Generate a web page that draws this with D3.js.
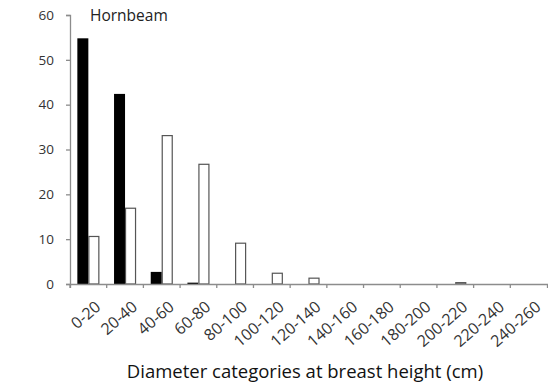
<!DOCTYPE html>
<html>
<head>
<meta charset="utf-8">
<script src="https://cdn.jsdelivr.net/npm/d3@7"></script>
<style>
  html, body { margin: 0; padding: 0; background: #fff; }
  svg { display: block; }
</style>
</head>
<body>
<div id="chart"></div>
<script>
// Hornbeam – stems by diameter class (two series: filled / open bars)

const categories = ["0-20","20-40","40-60","60-80","80-100","100-120","120-140",
                    "140-160","160-180","180-200","200-220","220-240","240-260"];
const seriesNames = ["black", "white"];
const blackValues = [54.8, 42.4, 2.7, 0.3, 0, 0, 0, 0, 0, 0, 0, 0, 0];
const whiteValues = [10.6, 16.9, 33.1, 26.7, 9.1, 2.4, 1.3, 0, 0, 0, 0.3, 0, 0];
const yTicks = [0, 10, 20, 30, 40, 50, 60];

const W = 548, H = 385;
const margin = { top: 15, right: 1, bottom: 101, left: 70 };
const width  = W - margin.left - margin.right;
const height = H - margin.top - margin.bottom;
const FONT = "'Open Sans', 'Liberation Sans', sans-serif";
const AXIS_COLOR = "#8c8c8c";

const svg = d3.select("#chart").append("svg").attr("width", W).attr("height", H);
const g = svg.append("g").attr("transform", `translate(${margin.left},${margin.top})`);

const x = d3.scaleBand().domain(categories).range([0, width]).paddingInner(0).paddingOuter(0);
const xs = d3.scaleBand().domain(seriesNames).range([0, x.bandwidth()])
  .paddingInner(0).paddingOuter(0.668);
const y = d3.scaleLinear().domain([0, 60]).range([height, 0]);

const rows = categories.map((c, i) => ({ cat: c, black: blackValues[i], white: whiteValues[i] }));

// Bars
const groups = g.selectAll(".grp").data(rows).join("g")
  .attr("class", "grp").attr("transform", d => `translate(${x(d.cat)},0)`);

groups.selectAll("rect").data(d => seriesNames.map(s => ({ s, v: d[s] })).filter(e => e.v > 0))
  .join("rect")
  .attr("x", d => xs(d.s) + (d.s === "white" ? 0.5 : 0))
  .attr("y", d => y(d.v))
  .attr("width", d => xs.bandwidth() - (d.s === "white" ? 1 : 0))
  .attr("height", d => y(0) - y(d.v))
  .attr("fill", d => d.s === "black" ? "#000" : "#fff")
  .attr("stroke", d => d.s === "black" ? "none" : "#555")
  .attr("stroke-width", 1.2);

// Y axis
const yAxis = g.append("g").call(d3.axisLeft(y).tickValues(yTicks).tickSize(4).tickPadding(12));
yAxis.select(".domain").attr("stroke", AXIS_COLOR).attr("stroke-width", 1.3);
yAxis.selectAll(".tick line").attr("stroke", AXIS_COLOR).attr("stroke-width", 1.3);
yAxis.selectAll("text").attr("font-family", FONT).attr("font-size", "13.5px").attr("fill", "#333");

// X axis – ticks at category boundaries, labels rotated
const xAxis = g.append("g").attr("transform", `translate(0,${height})`)
  .call(d3.axisBottom(x).tickSizeOuter(0).tickSize(4));
xAxis.select(".domain").attr("stroke", AXIS_COLOR).attr("stroke-width", 1.3);
xAxis.selectAll(".tick line")
  .attr("x1", -x.bandwidth() / 2).attr("x2", -x.bandwidth() / 2)
  .attr("stroke", AXIS_COLOR).attr("stroke-width", 1.3);
xAxis.selectAll("text")
  .attr("font-family", FONT).attr("font-size", "16px").attr("fill", "#333")
  .attr("text-anchor", "end")
  .attr("transform", "translate(6,16) rotate(-41)")
  .attr("dy", "0.7em").attr("y", 0);

// Title
g.append("text").attr("x", 20).attr("y", 6)
  .attr("font-family", FONT).attr("font-size", "15.5px").attr("fill", "#222")
  .text("Hornbeam");

// X axis label
svg.append("text").attr("x", 305).attr("y", 378)
  .attr("text-anchor", "middle")
  .attr("font-family", FONT).attr("font-size", "18.5px").attr("fill", "#111")
  .text("Diameter categories at breast height (cm)");
</script>
</body>
</html>
